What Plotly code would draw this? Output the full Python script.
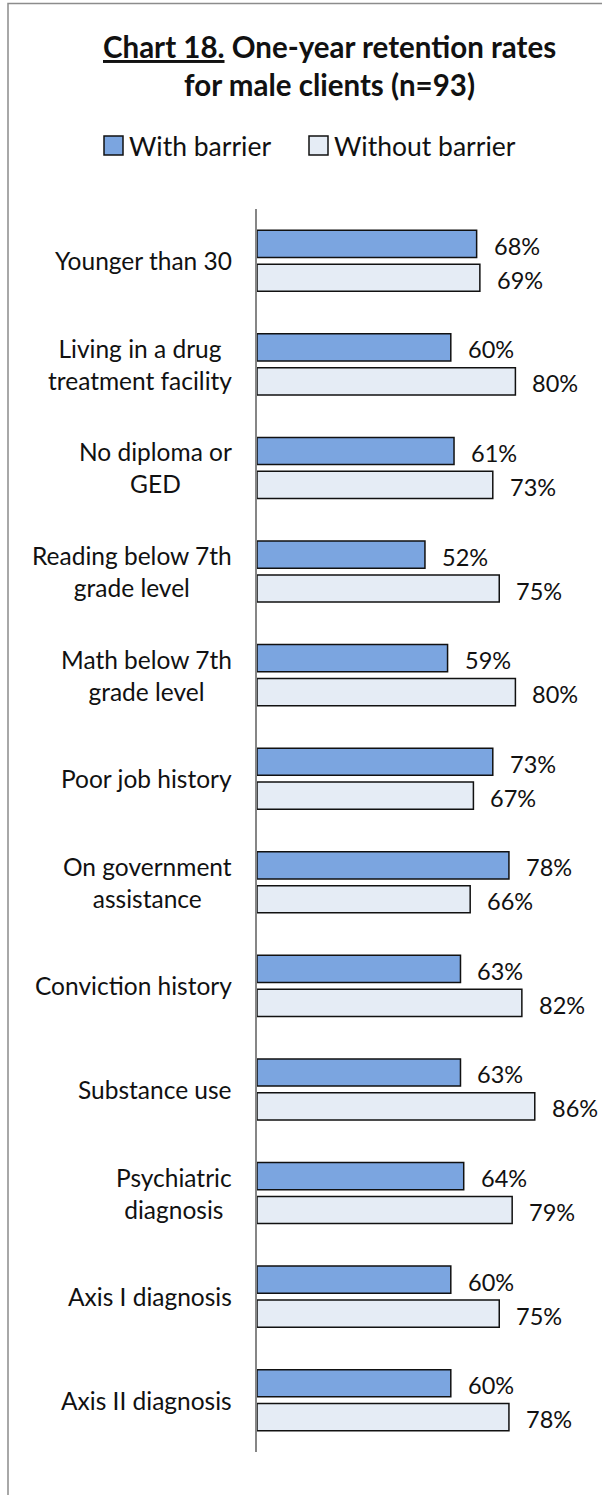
import plotly.graph_objects as go

# Barrier categories (top to bottom) and one-year retention rates (%)
categories = [
    "Younger than 30",
    "Living in a drug<br>treatment facility",
    "No diploma or<br>GED",
    "Reading below 7th<br>grade level",
    "Math below 7th<br>grade level",
    "Poor job history",
    "On government<br>assistance",
    "Conviction history",
    "Substance use",
    "Psychiatric<br>diagnosis",
    "Axis I diagnosis",
    "Axis II diagnosis",
]
with_barrier = [68, 60, 61, 52, 59, 73, 78, 63, 63, 64, 60, 60]
without_barrier = [69, 80, 73, 75, 80, 67, 66, 82, 86, 79, 75, 78]
series_names = ["With barrier", "Without barrier"]

W, H = 602, 1495
M_L, M_R, M_T, M_B = 257, 22, 209, 43
PLOT_W = W - M_L - M_R
PLOT_H = H - M_T - M_B

FONT = "Lato, 'Open Sans', sans-serif"
BLUE = "#7ba5e0"
LIGHT = "#e5ecf5"
EDGE = "#111111"
FRAME = "#8c8c8c"
INK = "#111111"


def px_x(px):
    """Horizontal pixel position -> paper coordinate."""
    return (px - M_L) / PLOT_W


def px_y(py):
    """Vertical pixel position (from top) -> paper coordinate."""
    return (H - M_B - py) / PLOT_H


fig = go.Figure()
for name, vals, color in [(series_names[0], with_barrier, BLUE),
                          (series_names[1], without_barrier, LIGHT)]:
    fig.add_trace(go.Bar(
        name=name,
        y=categories,
        x=vals,
        orientation="h",
        marker=dict(color=color, line=dict(color=EDGE, width=1.5)),
        showlegend=False,
        hoverinfo="x+y",
    ))

annotations = []
# value labels at the end of each bar
for vals, shift in [(with_barrier, 17), (without_barrier, -17)]:
    for cat, v in zip(categories, vals):
        annotations.append(dict(
            x=v, y=cat, xref="x", yref="y",
            text=f"{v}%", showarrow=False,
            xanchor="left", yanchor="middle",
            xshift=15, yshift=shift - 2,
            font=dict(family=FONT, size=23.5, color=INK),
        ))

# category labels, centred multi-line text left of the axis
for cat in categories:
    annotations.append(dict(
        x=0, y=cat, xref="paper", yref="y",
        text=cat, showarrow=False, align="center",
        xanchor="right", yanchor="middle", xshift=-23,
        font=dict(family=FONT, size=24.5, color=INK),
    ))

# legend: swatches drawn as shapes, labels as text
shapes = []
legend_items = [(series_names[0], BLUE, 104, 127), (series_names[1], LIGHT, 309, 332)]
for name, color, sq_x, txt_x in legend_items:
    shapes.append(dict(
        type="rect", xref="paper", yref="paper",
        x0=px_x(sq_x), x1=px_x(sq_x + 19), y0=px_y(155), y1=px_y(136),
        fillcolor=color, line=dict(color=EDGE, width=1.5), layer="above",
    ))
    annotations.append(dict(
        x=px_x(txt_x), y=px_y(146), xref="paper", yref="paper",
        text=name, showarrow=False, xanchor="left", yanchor="middle",
        font=dict(family=FONT, size=26.5, color=INK),
    ))

# chart title
annotations.append(dict(
    x=px_x(329), y=px_y(65), xref="paper", yref="paper",
    text="<b><u>Chart 18.</u> One-year retention rates<br>for male clients (n=93)</b>",
    showarrow=False, align="center", xanchor="center", yanchor="middle",
    font=dict(family=FONT, size=29.5, color=INK),
))

# chart frame (left and top edges visible)
shapes.append(dict(
    type="rect", xref="paper", yref="paper",
    x0=px_x(8), x1=px_x(660), y0=px_y(1520), y1=px_y(3.5),
    fillcolor="rgba(0,0,0,0)", line=dict(color=FRAME, width=1.5), layer="below",
))

fig.update_layout(
    width=W, height=H,
    margin=dict(l=M_L, r=M_R, t=M_T, b=M_B),
    paper_bgcolor="white", plot_bgcolor="white",
    barmode="group", bargap=0.344, bargroupgap=0.2,
    xaxis=dict(range=[0, 100], visible=False, fixedrange=True),
    yaxis=dict(
        type="category", categoryorder="array", categoryarray=categories,
        autorange="reversed", showticklabels=False, ticks="",
        showgrid=False, zeroline=False,
        showline=True, linecolor="#868686", linewidth=1.5,
    ),
    annotations=annotations,
    shapes=shapes,
    showlegend=False,
)

fig.write_html("out.html")
